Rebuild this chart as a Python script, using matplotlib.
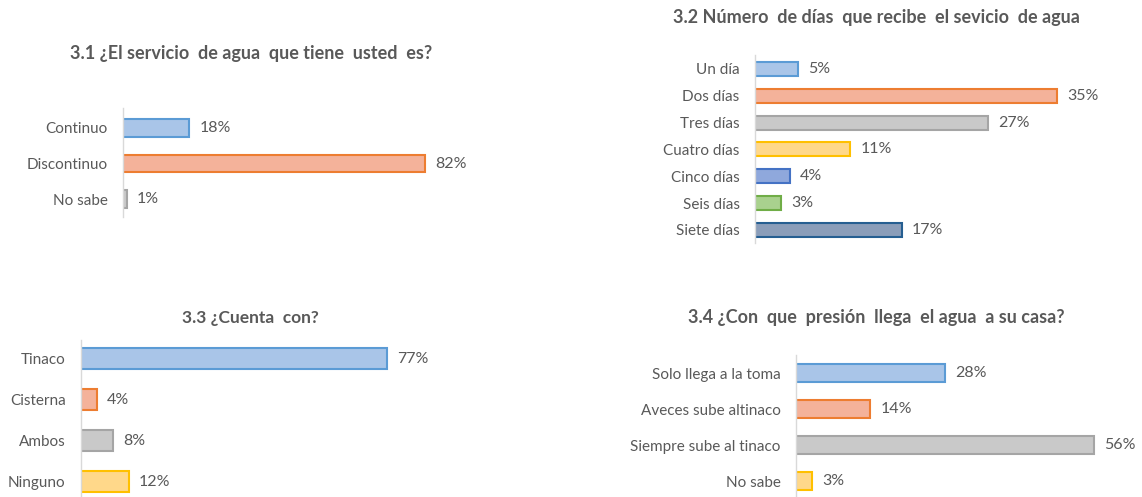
import matplotlib
matplotlib.use("Agg")
import matplotlib.pyplot as plt

plt.rcParams["font.family"] = ["Lato", "DejaVu Sans"]

W, H = 1142, 497
TEXT = "#595959"

# ---- data -------------------------------------------------------------
servicio_cats = ["Continuo", "Discontinuo", "No sabe"]
servicio_vals = [18, 82, 1]

dias_cats = ["Un día", "Dos días", "Tres días", "Cuatro días",
             "Cinco días", "Seis días", "Siete días"]
dias_vals = [5, 35, 27, 11, 4, 3, 17]

cuenta_cats = ["Tinaco", "Cisterna", "Ambos", "Ninguno"]
cuenta_vals = [77, 4, 8, 12]

presion_cats = ["Solo llega a la toma", "Aveces sube altinaco",
                "Siempre sube al tinaco", "No sabe"]
presion_vals = [28, 14, 56, 3]

# Office palette: (fill, edge)
PAL = [("#A9C5E8", "#5B9BD5"), ("#F4B29A", "#ED7D31"), ("#C9C9C9", "#A5A5A5"),
       ("#FFD88A", "#FFC000"), ("#8FA8DC", "#4472C4"), ("#A9D18E", "#70AD47"),
       ("#8A9DB9", "#255E91")]

fig = plt.figure(figsize=(W / 100, H / 100), dpi=100)
fig.patch.set_facecolor("white")


def panel(x0, x1, ytop, ybot, xlim, ylim, cats, vals, height, title, tx, ty, tsize):
    ax = fig.add_axes([x0 / W, 1 - ybot / H, (x1 - x0) / W, (ybot - ytop) / H])
    ax.set_xlim(0, xlim)
    ax.set_ylim(*ylim)
    ys = range(len(cats))
    for i, (y, v) in enumerate(zip(ys, vals)):
        fc, ec = PAL[i % len(PAL)]
        ax.barh(y, v, height=height, color=fc, edgecolor=ec, linewidth=1.5, zorder=2)
        ax.annotate(f"{v}%", (v, y), xytext=(7.5, 0), textcoords="offset points",
                    va="center", ha="left", fontsize=11.5, color=TEXT)
    ax.set_yticks(list(ys))
    ax.set_yticklabels(cats, fontsize=11, color=TEXT)
    ax.tick_params(axis="y", length=0, pad=11)
    ax.set_xticks([])
    for s in ("top", "right", "bottom"):
        ax.spines[s].set_visible(False)
    ax.spines["left"].set_color("#D9D9D9")
    ax.spines["left"].set_linewidth(1.0)
    ax.patch.set_alpha(0)
    fig.text(tx / W, 1 - ty / H, title, ha="center", va="center",
             fontsize=tsize, fontweight="bold", color=TEXT)
    return ax


# 3.1
panel(123, 480, 108, 217, 357 / 3.68, (2.5, -0.56), servicio_cats, servicio_vals,
      0.5, "3.1 ¿El servicio  de agua  que tiene  usted  es?", 251, 53, 13)
# 3.2
panel(755, 1130, 55, 243, 375 / 8.63, (6.49, -0.52), dias_cats, dias_vals,
      0.52, "3.2 Número  de días  que recibe  el sevicio  de agua", 876, 17, 13)
# 3.3
panel(81, 480, 340, 497, 399 / 3.97, (3.37, -0.46), cuenta_cats, cuenta_vals,
      0.51, "3.3 ¿Cuenta  con?", 250, 318, 12.5)
# 3.4
panel(796, 1135, 355, 497, 339 / 5.32, (3.44, -0.5), presion_cats, presion_vals,
      0.5, "3.4 ¿Con  que  presión  llega  el agua  a su casa?", 876, 317, 13)

fig.savefig("out.png", dpi=100, facecolor="white")
